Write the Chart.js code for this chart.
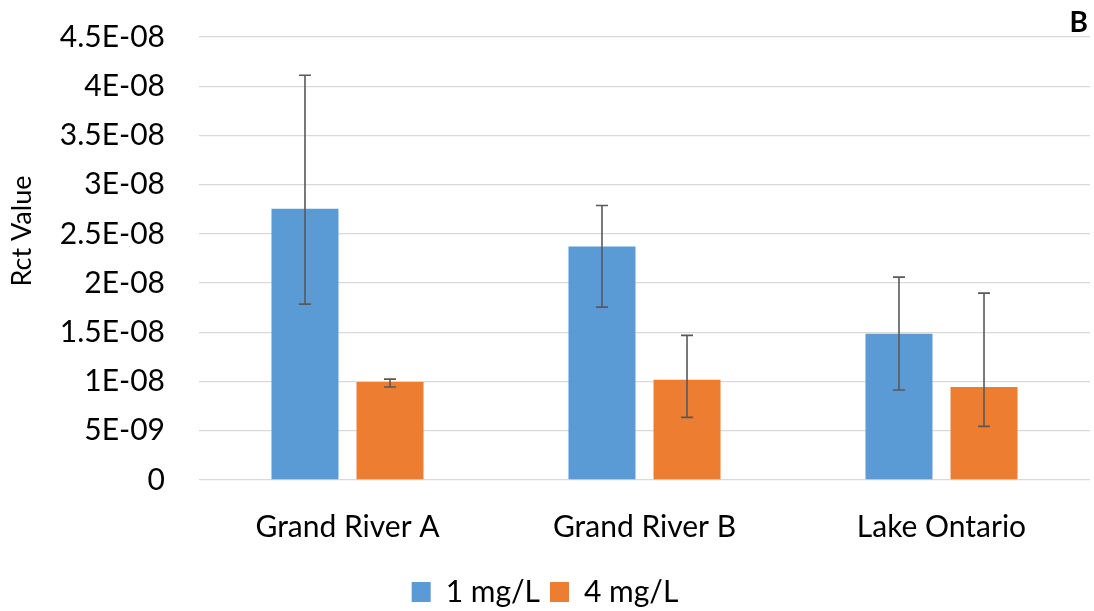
<!DOCTYPE html>
<html>
<head>
<meta charset="utf-8">
<title>Rct Value</title>
<script src="https://cdn.jsdelivr.net/npm/chart.js@4/dist/chart.umd.min.js"></script>
<style>
  html, body { margin: 0; padding: 0; background: #ffffff; }
  #wrap { width: 1094px; height: 611px; }
</style>
</head>
<body>
<div id="wrap"><canvas id="chart" width="1094" height="611"></canvas></div>
<script>
// Sampling sites
const categories = ['Grand River A', 'Grand River B', 'Lake Ontario'];

// Series names
const seriesNames = ['1 mg/L', '4 mg/L'];

// Mean Rct values
const rct1mg = [2.755e-8, 2.373e-8, 1.485e-8];
const rct4mg = [0.995e-8, 1.018e-8, 0.944e-8];

// Error bar extents above / below each mean
const err1mgPlus  = [1.357e-8, 0.416e-8, 0.576e-8];
const err1mgMinus = [0.968e-8, 0.617e-8, 0.571e-8];
const err4mgPlus  = [0.030e-8, 0.451e-8, 0.954e-8];
const err4mgMinus = [0.051e-8, 0.382e-8, 0.399e-8];

// Value axis tick labels (bottom to top)
const yTickLabels = ['0', '5E-09', '1E-08', '1.5E-08', '2E-08', '2.5E-08',
                     '3E-08', '3.5E-08', '4E-08', '4.5E-08'];

const FONT = 'Lato, "Open Sans", sans-serif';

// Draws the custom error bars on top of each bar
const errorBars = {
  id: 'errorBars',
  afterDatasetsDraw(chart) {
    const ctx = chart.ctx;
    const y = chart.scales.y;
    ctx.save();
    ctx.strokeStyle = '#595959';
    ctx.lineWidth = 1.6;
    chart.data.datasets.forEach((ds, di) => {
      const meta = chart.getDatasetMeta(di);
      meta.data.forEach((bar, i) => {
        const v = ds.data[i];
        const top = y.getPixelForValue(v + ds.errPlus[i]);
        const bot = y.getPixelForValue(v - ds.errMinus[i]);
        const x = bar.x;
        const cap = 6;
        ctx.beginPath();
        ctx.moveTo(x, top); ctx.lineTo(x, bot);
        ctx.moveTo(x - cap, top); ctx.lineTo(x + cap, top);
        ctx.moveTo(x - cap, bot); ctx.lineTo(x + cap, bot);
        ctx.stroke();
      });
    });
    ctx.restore();
  }
};

// Axis title and panel letter
const annotations = {
  id: 'annotations',
  afterDraw(chart) {
    const ctx = chart.ctx;
    const area = chart.chartArea;
    ctx.save();
    ctx.fillStyle = '#000000';
    ctx.textAlign = 'center';
    ctx.textBaseline = 'middle';
    ctx.font = '27px ' + FONT;
    ctx.translate(22, 231);
    ctx.rotate(-Math.PI / 2);
    ctx.fillText('Rct Value', 0, 0);
    ctx.restore();

    ctx.save();
    ctx.fillStyle = '#000000';
    ctx.textAlign = 'right';
    ctx.textBaseline = 'middle';
    ctx.font = 'bold 28px ' + FONT;
    ctx.fillText('B', area.right - 2, 23);
    ctx.restore();
  }
};

new Chart(document.getElementById('chart'), {
  type: 'bar',
  data: {
    labels: categories,
    datasets: [
      {
        label: seriesNames[0],
        data: rct1mg,
        errPlus: err1mgPlus,
        errMinus: err1mgMinus,
        backgroundColor: '#5B9BD5',
        borderWidth: 0
      },
      {
        label: seriesNames[1],
        data: rct4mg,
        errPlus: err4mgPlus,
        errMinus: err4mgMinus,
        backgroundColor: '#ED7D31',
        borderWidth: 0
      }
    ]
  },
  options: {
    responsive: false,
    animation: false,
    devicePixelRatio: 1,
    categoryPercentage: 0.5726,
    barPercentage: 0.788,
    layout: { padding: { left: 0, right: 4, top: 37, bottom: -6 } },
    plugins: {
      tooltip: { enabled: false },
      title: { display: false },
      legend: {
        position: 'bottom',
        labels: {
          boxWidth: 19,
          boxHeight: 20,
          padding: 10,
          color: '#000000',
          font: { family: FONT, size: 30 }
        }
      }
    },
    scales: {
      x: {
        grid: { display: false },
        border: { display: false },
        ticks: {
          color: '#000000',
          padding: 21,
          font: { family: FONT, size: 30 }
        },
        afterFit(scale) { scale.height = 87; }
      },
      y: {
        min: 0,
        max: 4.5e-8,
        grid: { color: '#D9D9D9', lineWidth: 1.3, drawTicks: false },
        border: { display: false },
        ticks: {
          stepSize: 5e-9,
          padding: 34,
          color: '#000000',
          font: { family: FONT, size: 30 },
          callback: (value, index) => yTickLabels[index]
        },
        afterFit(scale) {
          scale.width = 199;
          scale.paddingTop = 0;
          scale.paddingBottom = 0;
        }
      }
    }
  },
  plugins: [errorBars, annotations]
});
</script>
</body>
</html>
